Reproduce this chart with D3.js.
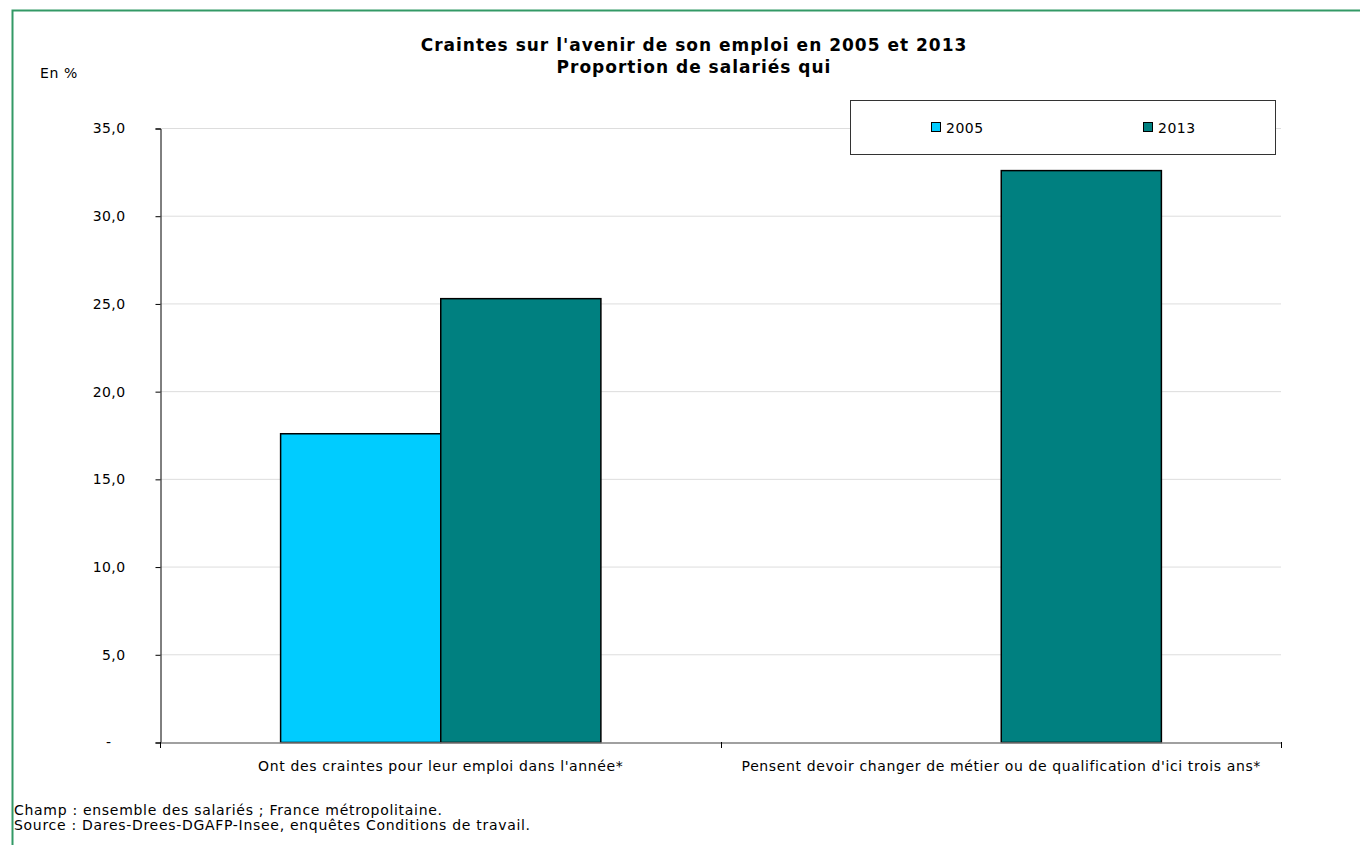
<!DOCTYPE html>
<html><head><meta charset="utf-8">
<script src="https://cdn.jsdelivr.net/npm/d3@7/dist/d3.min.js"></script>
<style>body{margin:0;background:#fff}svg{display:block}text{font-family:"DejaVu Sans",Verdana,sans-serif;fill:#000}</style>
</head><body><svg id="c" width="1360" height="845"></svg>
<script>
const categories = ["Ont des craintes pour leur emploi dans l'année*", "Pensent devoir changer de métier ou de qualification d'ici trois ans*"];
const seriesNames = ["2005", "2013"];
const values2005 = [17.6, null];
const values2013 = [25.3, 32.6];
const yTicks = [0, 5, 10, 15, 20, 25, 30, 35];
const colors = ["#00CCFF", "#008080"];
const titleLines = ["Craintes sur l'avenir de son emploi en 2005 et 2013", "Proportion de salariés qui"];
const notes = ["Champ : ensemble des salariés ; France métropolitaine.", "Source : Dares-Drees-DGAFP-Insee, enquêtes Conditions de travail."];

const FF = "DejaVu Sans, Verdana, sans-serif";
const svg = d3.select("#c");
// frame
svg.append("path").attr("d","M12.5,845 V10.5 H1360").attr("fill","none").attr("stroke","#339966").attr("stroke-width",2);

const L=160, R=1281, T=128, B=742;
const y = d3.scaleLinear().domain([0,35]).range([B,T]);
const x0 = d3.scaleBand().domain(categories).range([L,R]).paddingInner(0).paddingOuter(0);
const x1 = d3.scaleBand().domain(seriesNames).range([0,x0.bandwidth()]).paddingInner(0).paddingOuter(0.75);

// gridlines
svg.append("g").selectAll("line").data(yTicks.filter(d=>d>0)).join("line")
  .attr("x1",L).attr("x2",R).attr("y1",d=>y(d)+0.5).attr("y2",d=>y(d)+0.5)
  .attr("stroke","#dddddd").attr("stroke-width",1);

// y axis
const yAxis = d3.axisLeft(y).tickValues(yTicks).tickSize(5).tickPadding(30)
  .tickFormat(d=>d===0?"-":d3.format(".1f")(d).replace(".",","));
const gy = svg.append("g").attr("transform",`translate(${L+0.5},0.5)`).call(yAxis);
gy.select(".domain").attr("stroke","#000");
gy.selectAll(".tick line").attr("stroke","#000");
gy.selectAll(".tick text").attr("font-size",14).attr("letter-spacing",0.4).attr("font-family",FF).attr("fill","#000");
gy.selectAll(".tick text").filter(d=>d===0).attr("dx",-14);

// bars
const data = categories.map((c,i)=>({c, vals:[values2005[i], values2013[i]]}));
const gb = svg.append("g");
data.forEach(d=>{
  d.vals.forEach((v,j)=>{
    if(v==null) return;
    gb.append("rect")
      .attr("x", x0(d.c)+x1(seriesNames[j])+0.5)
      .attr("y", y(v)+0.5)
      .attr("width", x1.bandwidth())
      .attr("height", B - y(v))
      .attr("fill", colors[j]).attr("stroke","#000").attr("stroke-width",1.5);
  });
});

// x axis
const xAxis = d3.axisBottom(x0).tickSize(0).tickPadding(19);
const gx = svg.append("g").attr("transform",`translate(0.5,${B+0.5})`).call(xAxis);
gx.select(".domain").attr("stroke","#808080").attr("stroke-width",1.5);
gx.selectAll(".tick text").attr("font-size",14).attr("letter-spacing",0.62).attr("font-family",FF).attr("fill","#000");
const xTickPos = [L, L+x0.bandwidth(), R];
svg.append("g").selectAll("line").data(xTickPos).join("line")
  .attr("x1",d=>Math.round(d)+0.5).attr("x2",d=>Math.round(d)+0.5).attr("y1",B).attr("y2",B+6).attr("stroke","#000");

// title
svg.append("text").attr("x",694).attr("y",51).attr("text-anchor","middle").attr("font-weight","bold").attr("font-size",17).attr("letter-spacing",1)
  .selectAll("tspan").data(titleLines).join("tspan").attr("x",694).attr("dy",(d,i)=>i?22:0).text(d=>d);
svg.append("text").attr("x",40).attr("y",78).attr("font-size",14).attr("letter-spacing",0.6).text("En %");

// legend
const lg = svg.append("g");
lg.append("rect").attr("x",850.5).attr("y",100.5).attr("width",425).attr("height",54).attr("fill","#fff").attr("stroke","#333").attr("stroke-width",1);
const legX = [931, 1143];
seriesNames.forEach((s,i)=>{
  lg.append("rect").attr("x",legX[i]+0.5).attr("y",122.5).attr("width",9).attr("height",9).attr("fill",colors[i]).attr("stroke","#000").attr("stroke-width",1);
  lg.append("text").attr("x",legX[i]+15).attr("y",133).attr("font-size",14).attr("letter-spacing",0.5).text(s);
});

// notes
svg.append("text").attr("font-size",14).attr("letter-spacing",0.7).selectAll("tspan").data(notes).join("tspan")
  .attr("x",14).attr("y",(d,i)=>815+i*15).text(d=>d);
</script></body></html>
